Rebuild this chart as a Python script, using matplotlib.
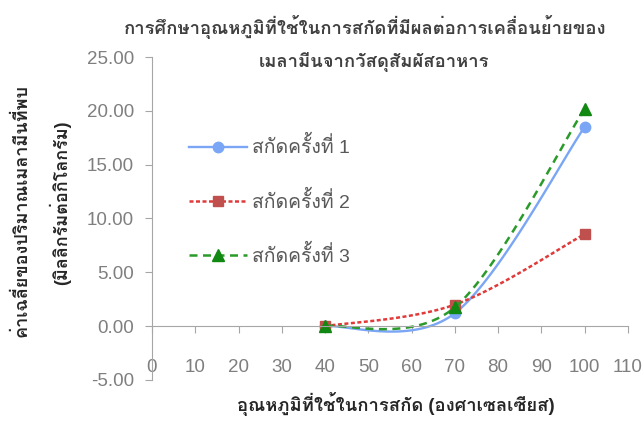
import numpy as np
import matplotlib
matplotlib.use('Agg')
import matplotlib.pyplot as plt

plt.rcParams['font.family'] = ['Liberation Sans', 'Loma']

temps = [40, 70, 100]
run1 = [0.0, 1.2, 18.5]
run2 = [0.0, 2.0, 8.55]
run3 = [0.0, 1.75, 20.2]
labels = ['สกัดครั้งที่ 1', 'สกัดครั้งที่ 2', 'สกัดครั้งที่ 3']
title1 = 'การศึกษาอุณหภูมิที่ใช้ในการสกัดที่มีผลต่อการเคลื่อนย้ายของ'
title2 = 'เมลามีนจากวัสดุสัมผัสอาหาร'
ylabel1 = 'ค่าเฉลี่ยของปริมาณเมลามีนที่พบ'
ylabel2 = '(มิลลิกรัมต่อกิโลกรัม)'
xlabel = 'อุณหภูมิที่ใช้ในการสกัด (องศาเซลเซียส)'


def smooth(xs, ys, n=40):
    """Excel-style smoothed line through the points (cubic bezier)"""
    p = np.column_stack([xs, ys]).astype(float)
    ext = np.vstack([p[0], p, p[-1]])
    out = []
    for i in range(len(p) - 1):
        p0, p1 = ext[i + 1], ext[i + 2]
        c1 = p0 + (ext[i + 2] - ext[i]) / 6
        c2 = p1 - (ext[i + 3] - ext[i + 1]) / 6
        t = np.linspace(0, 1, n)[:, None]
        seg = (1 - t) ** 3 * p0 + 3 * (1 - t) ** 2 * t * c1 + 3 * (1 - t) * t ** 2 * c2 + t ** 3 * p1
        out.append(seg)
    seg = np.vstack(out)
    return seg[:, 0], seg[:, 1]


fig = plt.figure(figsize=(6.44, 4.21), dpi=100)
ax = fig.add_axes([0.236, 0.0974, 0.739, 0.7672])

styles = [
    dict(color='#7aa6f5', ls='-', lw=1.7, marker='o', mc='#7aa6f5', ms=7.5),
    dict(color='#e03a3a', ls=(0, (1.6, 1.0)), lw=1.8, marker='s', mc='#c0504d', ms=7.5),
    dict(color='#2a9a2a', ls=(0, (3.2, 2.2)), lw=1.8, marker='^', mc='#118811', ms=8),
]
handles = []
for ys, lab, st in zip([run1, run2, run3], labels, styles):
    sx, sy = smooth(temps, ys)
    ax.plot(sx, sy, color=st['color'], ls=st['ls'], lw=st['lw'])
    ax.plot(temps, ys, ls='none', marker=st['marker'], color=st['mc'], ms=st['ms'])
    h, = ax.plot([], [], color=st['color'], ls=st['ls'], lw=st['lw'],
                 marker=st['marker'], mfc=st['mc'], mec=st['mc'], ms=st['ms'])
    h.set_label(lab)
    handles.append(h)

ax.set_xlim(0, 110)
ax.set_ylim(-5, 25)
ax.set_xticks(np.arange(0, 111, 10))
ax.set_yticks(np.arange(-5, 26, 5))
ax.set_yticklabels(['%.2f' % v for v in np.arange(-5, 26, 5)])

for s in ['top', 'right']:
    ax.spines[s].set_visible(False)
ax.spines['bottom'].set_position(('data', 0))
ax.spines['left'].set_color('#a6a6a6')
ax.spines['bottom'].set_color('#a6a6a6')
ax.tick_params(axis='both', colors='#a6a6a6', labelcolor='#7f7f7f', labelsize=13.5, length=5)
ax.tick_params(axis='x', pad=19)
ax.tick_params(axis='y', pad=8)

leg = ax.legend(handles=handles, loc='center left', bbox_to_anchor=(0.057, 0.554),
                frameon=False, fontsize=14, labelcolor='#595959', borderpad=0,
                handlelength=3.0, handletextpad=0.25, labelspacing=1.7)

fig.text(0.567, 0.936, title1, ha='center', va='center', fontsize=13.3,
         fontweight='bold', color='#404040')
fig.text(0.581, 0.853, title2, ha='center', va='center', fontsize=13.3,
         fontweight='bold', color='#404040')
fig.text(0.034, 0.499, ylabel1, rotation=90, ha='center', va='center',
         fontsize=13, fontweight='bold', color='#262626')
fig.text(0.093, 0.518, ylabel2, rotation=90, ha='center', va='center',
         fontsize=13, fontweight='bold', color='#262626')
fig.text(0.615, 0.04, xlabel, ha='center', va='center', fontsize=13.3,
         fontweight='bold', color='#262626')

fig.savefig('out.png', dpi=100)
